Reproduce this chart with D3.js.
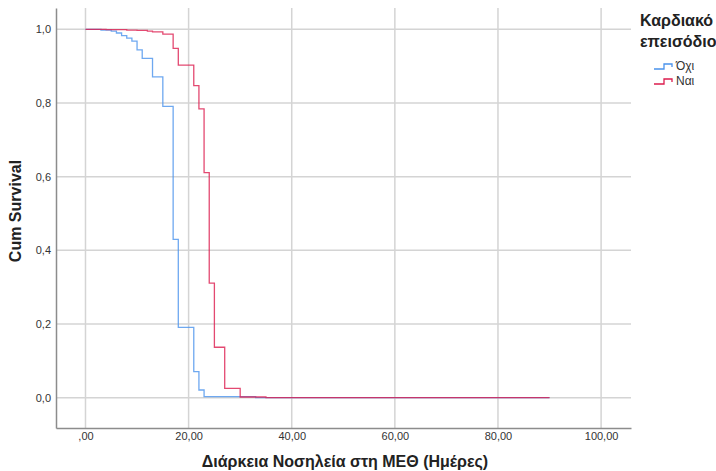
<!DOCTYPE html>
<html>
<head>
<meta charset="utf-8">
<script src="https://cdn.jsdelivr.net/npm/d3@7"></script>
<style>
  body { margin: 0; background: #fff; }
  svg { display: block; font-family: "Liberation Sans", Arial, sans-serif; }
</style>
</head>
<body>
<svg id="chart" width="716" height="471"></svg>
<script>
// Kaplan-Meier steps
var groups = ["Όχι", "Ναι"];
var noTimes = [0, 3, 5, 6, 7, 8, 9, 10, 11, 13, 15, 17, 18, 21, 22, 23, 33, 90];
var noSurv  = [1.0, 0.998, 0.995, 0.99, 0.983, 0.976, 0.968, 0.944, 0.921, 0.871, 0.791, 0.43, 0.191, 0.071, 0.021, 0.003, 0.0005, 0.0005];
var yesTimes = [0, 4, 8, 10, 12, 13, 15, 17, 18, 21, 22, 23, 24, 25, 27, 30, 35, 90];
var yesSurv  = [1.0, 0.999, 0.998, 0.997, 0.995, 0.993, 0.987, 0.948, 0.903, 0.847, 0.784, 0.611, 0.311, 0.137, 0.0255, 0.002, 0.0005, 0.0005];
var xTicks = [0, 20, 40, 60, 80, 100];
var yTicks = [0, 0.2, 0.4, 0.6, 0.8, 1.0];
var colors = ["#4a92ec", "#dc1c4e"];

var svg = d3.select("#chart");
var plot = { left: 56, right: 631, top: 8, bottom: 428 };

var x = d3.scaleLinear().domain([-5.72, 105.8]).range([plot.left, plot.right]);
var y = d3.scaleLinear().domain([-0.0822, 1.0578]).range([plot.bottom, plot.top]);

var fmtX = function(d) { return d === 0 ? ",00" : d3.format(".2f")(d).replace(".", ","); };
var fmtY = function(d) { return d3.format(".1f")(d).replace(".", ","); };

// grid lines
svg.append("g")
    .selectAll("line")
    .data(xTicks)
    .enter().append("line")
    .attr("x1", function(d) { return x(d); })
    .attr("x2", function(d) { return x(d); })
    .attr("y1", plot.top)
    .attr("y2", plot.bottom)
    .attr("stroke", "#d4d4d4")
    .attr("stroke-width", 1.5);

svg.append("g")
    .selectAll("line")
    .data(yTicks)
    .enter().append("line")
    .attr("x1", plot.left)
    .attr("x2", plot.right)
    .attr("y1", function(d) { return y(d); })
    .attr("y2", function(d) { return y(d); })
    .attr("stroke", "#d4d4d4")
    .attr("stroke-width", 1.5);

// axes
var xAxis = svg.append("g")
    .attr("transform", "translate(0," + plot.bottom + ")")
    .call(d3.axisBottom(x).tickValues(xTicks).tickFormat(fmtX).tickSize(0).tickPadding(4));
var yAxis = svg.append("g")
    .attr("transform", "translate(" + plot.left + ",0)")
    .call(d3.axisLeft(y).tickValues(yTicks).tickFormat(fmtY).tickSize(0).tickPadding(5));

[xAxis, yAxis].forEach(function(a) {
    a.select(".domain").attr("stroke", "#8c8c8c").attr("stroke-width", 1.5);
    a.selectAll("text").attr("font-size", 11).attr("fill", "#333")
        .attr("font-family", "'Liberation Sans', Arial, sans-serif");
});

// survival curves
var line = d3.line()
    .x(function(d) { return x(d[0]); })
    .y(function(d) { return y(d[1]); })
    .curve(d3.curveStepAfter);

var series = [d3.zip(noTimes, noSurv), d3.zip(yesTimes, yesSurv)];
svg.append("g")
    .selectAll("path")
    .data(series)
    .enter().append("path")
    .attr("d", line)
    .attr("fill", "none")
    .attr("stroke", function(d, i) { return colors[i]; })
    .attr("stroke-width", 1.3)
    .attr("stroke-opacity", 0.8);

// axis titles
svg.append("text")
    .attr("x", 345)
    .attr("y", 467)
    .attr("text-anchor", "middle")
    .attr("font-size", 16)
    .attr("font-weight", "bold")
    .attr("fill", "#222")
    .text("Διάρκεια Νοσηλεία στη ΜΕΘ (Ημέρες)");

svg.append("text")
    .attr("transform", "translate(21,211) rotate(-90)")
    .attr("text-anchor", "middle")
    .attr("font-size", 16)
    .attr("font-weight", "bold")
    .attr("fill", "#222")
    .text("Cum Survival");

// legend
var legend = svg.append("g");
legend.append("text").attr("x", 640).attr("y", 26)
    .attr("font-size", 16).attr("font-weight", "bold").attr("fill", "#222")
    .text("Καρδιακό");
legend.append("text").attr("x", 640).attr("y", 47)
    .attr("font-size", 16).attr("font-weight", "bold").attr("fill", "#222")
    .text("επεισόδιο");

var item = legend.selectAll("g.item")
    .data(groups)
    .enter().append("g")
    .attr("class", "item")
    .attr("transform", function(d, i) { return "translate(0," + (64 + i * 15) + ")"; });

item.append("path")
    .attr("d", "M654,5H664V0H672V3")
    .attr("fill", "none")
    .attr("stroke", function(d, i) { return colors[i]; })
    .attr("stroke-width", 1.3);

item.append("text")
    .attr("x", 676)
    .attr("y", 6)
    .attr("font-size", 12)
    .attr("fill", "#333")
    .text(function(d) { return d; });
</script>
</body>
</html>
